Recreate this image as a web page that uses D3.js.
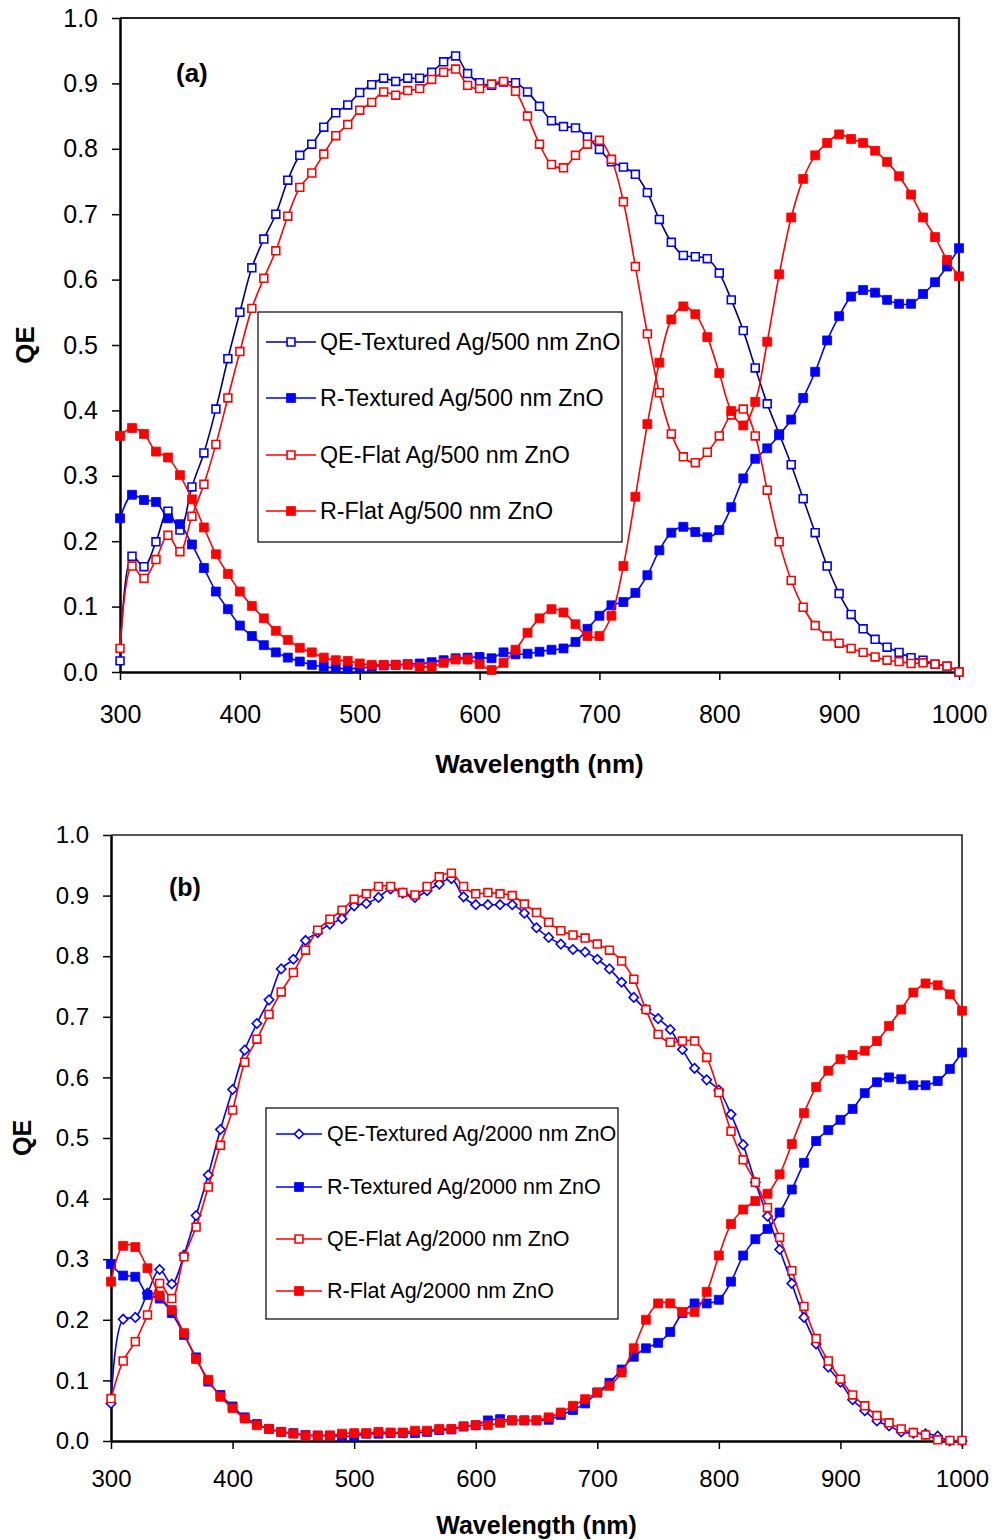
<!DOCTYPE html>
<html>
<head>
<meta charset="utf-8">
<script src="https://cdn.jsdelivr.net/npm/d3@7"></script>
<style>
  body { margin: 0; background: #fff; }
  svg { display: block; font-family: "Liberation Sans", Arial, sans-serif; }
</style>
</head>
<body>
<svg id="chart" width="995" height="1540"></svg>
<script>
// wavelengths (nm), one point every 10 nm
const wavelength = [300,310,320,330,340,350,360,370,380,390,400,410,420,430,440,450,460,470,480,490,
  500,510,520,530,540,550,560,570,580,590,600,610,620,630,640,650,660,670,680,690,
  700,710,720,730,740,750,760,770,780,790,800,810,820,830,840,850,860,870,880,890,
  900,910,920,930,940,950,960,970,980,990,1000];

const xTicks = [300,400,500,600,700,800,900,1000];
const yTicks = [0,0.1,0.2,0.3,0.4,0.5,0.6,0.7,0.8,0.9,1.0];

// panel (a): 500 nm ZnO
const qeTexA = [0.017,0.177,0.161,0.199,0.246,0.217,0.283,0.335,0.402,0.479,
  0.55,0.618,0.662,0.70,0.752,0.79,0.807,0.833,0.855,0.867,
  0.886,0.898,0.908,0.903,0.908,0.908,0.917,0.933,0.942,0.915,
  0.901,0.897,0.902,0.901,0.887,0.865,0.843,0.834,0.832,0.818,
  0.799,0.78,0.772,0.761,0.733,0.692,0.657,0.637,0.635,0.632,
  0.61,0.569,0.522,0.465,0.41,0.364,0.317,0.265,0.213,0.162,
  0.12,0.088,0.066,0.05,0.038,0.03,0.022,0.018,0.012,0.009,0.0];
const rTexA = [0.235,0.271,0.263,0.26,0.235,0.226,0.195,0.159,0.123,0.096,
  0.071,0.055,0.041,0.03,0.022,0.016,0.011,0.008,0.006,0.005,
  0.006,0.008,0.01,0.011,0.012,0.013,0.015,0.018,0.021,0.022,
  0.023,0.021,0.03,0.027,0.028,0.031,0.034,0.036,0.046,0.066,
  0.086,0.102,0.107,0.121,0.148,0.186,0.213,0.222,0.214,0.206,
  0.217,0.252,0.296,0.326,0.342,0.362,0.386,0.419,0.459,0.507,
  0.544,0.574,0.584,0.58,0.569,0.563,0.563,0.578,0.596,0.62,0.648];
const qeFlatA = [0.036,0.162,0.143,0.172,0.209,0.184,0.238,0.287,0.348,0.419,
  0.49,0.556,0.602,0.644,0.697,0.741,0.763,0.792,0.82,0.837,
  0.859,0.871,0.887,0.882,0.889,0.892,0.906,0.917,0.922,0.897,
  0.892,0.899,0.903,0.888,0.85,0.807,0.776,0.771,0.79,0.807,
  0.813,0.784,0.719,0.62,0.517,0.427,0.364,0.329,0.32,0.336,
  0.361,0.393,0.402,0.361,0.278,0.199,0.14,0.099,0.071,0.055,
  0.044,0.036,0.03,0.023,0.018,0.016,0.013,0.014,0.012,0.009,0.0];
const rFlatA = [0.361,0.373,0.364,0.337,0.328,0.301,0.264,0.221,0.18,0.15,
  0.123,0.101,0.082,0.063,0.049,0.037,0.03,0.022,0.018,0.017,
  0.013,0.011,0.011,0.011,0.011,0.008,0.008,0.014,0.019,0.019,
  0.012,0.003,0.014,0.034,0.06,0.082,0.096,0.091,0.073,0.055,
  0.055,0.086,0.162,0.268,0.379,0.473,0.539,0.559,0.547,0.512,
  0.457,0.399,0.377,0.413,0.505,0.608,0.695,0.754,0.79,0.809,
  0.822,0.815,0.809,0.797,0.78,0.758,0.73,0.695,0.665,0.63,0.605];

// panel (b): 2000 nm ZnO
const qeTexB = [0.062,0.201,0.204,0.244,0.283,0.259,0.307,0.372,0.439,0.514,
  0.58,0.645,0.689,0.728,0.779,0.795,0.826,0.839,0.853,0.862,
  0.883,0.887,0.897,0.911,0.904,0.897,0.908,0.919,0.928,0.898,
  0.885,0.885,0.885,0.885,0.871,0.847,0.831,0.82,0.811,0.807,
  0.795,0.779,0.757,0.732,0.712,0.697,0.679,0.646,0.615,0.596,
  0.579,0.539,0.489,0.427,0.371,0.316,0.26,0.204,0.16,0.122,
  0.097,0.068,0.05,0.033,0.025,0.015,0.013,0.012,0.008,0.0,0.0];
const rTexB = [0.292,0.273,0.271,0.241,0.235,0.211,0.175,0.138,0.098,0.076,
  0.057,0.039,0.028,0.02,0.015,0.013,0.01,0.009,0.009,0.008,
  0.008,0.012,0.012,0.013,0.013,0.013,0.015,0.018,0.019,0.024,
  0.026,0.034,0.036,0.034,0.034,0.034,0.035,0.043,0.051,0.062,
  0.08,0.096,0.118,0.139,0.153,0.162,0.18,0.211,0.227,0.227,
  0.233,0.263,0.306,0.333,0.35,0.377,0.415,0.459,0.495,0.513,
  0.53,0.548,0.574,0.592,0.6,0.597,0.587,0.587,0.594,0.614,0.641];
const qeFlatB = [0.07,0.132,0.164,0.208,0.26,0.235,0.304,0.353,0.419,0.488,
  0.546,0.625,0.663,0.704,0.741,0.773,0.81,0.843,0.861,0.876,
  0.894,0.903,0.915,0.915,0.905,0.901,0.915,0.931,0.937,0.915,
  0.903,0.905,0.903,0.9,0.886,0.872,0.856,0.842,0.835,0.83,
  0.82,0.81,0.792,0.762,0.712,0.671,0.658,0.66,0.66,0.633,
  0.575,0.511,0.464,0.427,0.385,0.336,0.281,0.222,0.169,0.132,
  0.102,0.076,0.058,0.042,0.03,0.02,0.014,0.01,0.002,0.001,0.001];
const rFlatB = [0.263,0.322,0.32,0.285,0.24,0.216,0.178,0.135,0.101,0.073,
  0.054,0.037,0.026,0.02,0.015,0.012,0.009,0.009,0.009,0.012,
  0.013,0.013,0.015,0.014,0.014,0.017,0.017,0.02,0.02,0.024,
  0.026,0.026,0.03,0.034,0.034,0.034,0.039,0.047,0.058,0.069,
  0.08,0.091,0.113,0.153,0.2,0.227,0.227,0.213,0.213,0.246,
  0.306,0.358,0.382,0.396,0.408,0.44,0.49,0.541,0.584,0.611,
  0.63,0.637,0.644,0.66,0.685,0.712,0.74,0.755,0.752,0.737,0.71];

const svg = d3.select('#chart');

const drawMarker = (g, s, x, y) => {
  const size = s.shape === 'diamond' ? 44 : (s.filled ? 80 : 62);
  g.append('path')
    .attr('d', d3.symbol().type(d3.symbolSquare).size(size)())
    .attr('transform', `translate(${x},${y})` + (s.shape === 'diamond' ? ' rotate(45)' : ''))
    .attr('fill', s.filled ? s.color : '#fff')
    .attr('stroke', s.color)
    .attr('stroke-width', s.filled ? 0.8 : 1.6);
};

const drawPanel = (p) => {
  const g = svg.append('g');

  const x = d3.scaleLinear().domain([300, 1000]).range([p.left, p.right]);
  const y = d3.scaleLinear().domain([0, 1]).range([p.bottom, p.top]);

  // axes
  g.append('g')
    .attr('transform', `translate(0,${p.bottom})`)
    .call(d3.axisBottom(x).tickValues(xTicks).tickFormat(d3.format('d')).tickSize(8).tickSizeOuter(0).tickPadding(p.xPad))
    .call(a => a.select('.domain').attr('stroke-width', 2.5))
    .call(a => a.selectAll('.tick line').attr('stroke-width', 1.5))
    .call(a => a.selectAll('text').attr('font-size', p.tickFont).attr('fill', '#000')
      .attr('font-family', '"Liberation Sans", Arial, sans-serif'));

  g.append('g')
    .attr('transform', `translate(${p.left},0)`)
    .call(d3.axisLeft(y).tickValues(yTicks).tickFormat(d3.format('.1f')).tickSize(8).tickSizeOuter(0).tickPadding(p.yPad))
    .call(a => a.select('.domain').attr('stroke-width', 2.5))
    .call(a => a.selectAll('.tick line').attr('stroke-width', 1.5))
    .call(a => a.selectAll('text').attr('font-size', p.tickFont).attr('fill', '#000')
      .attr('font-family', '"Liberation Sans", Arial, sans-serif'));

  // top and right frame
  g.append('path')
    .attr('d', `M${p.left},${p.top}H${p.right}V${p.bottom}`)
    .attr('fill', 'none')
    .attr('stroke', '#222')
    .attr('stroke-width', p.frameWidth);

  // axis titles
  g.append('text')
    .attr('x', (p.left + p.right) / 2)
    .attr('y', p.xTitleY)
    .attr('text-anchor', 'middle')
    .attr('font-size', p.titleFont)
    .attr('font-weight', 'bold')
    .text('Wavelength (nm)');

  g.append('text')
    .attr('transform', `translate(${p.yTitleX},${p.yTitleCy}) rotate(-90)`)
    .attr('text-anchor', 'middle')
    .attr('dominant-baseline', 'central')
    .attr('font-size', p.titleFont)
    .attr('font-weight', 'bold')
    .text('QE');

  g.append('text')
    .attr('x', p.labelX)
    .attr('y', p.labelY)
    .attr('font-size', p.titleFont)
    .attr('font-weight', 'bold')
    .text(p.label);

  // series
  const line = d3.line()
    .x((d, i) => x(wavelength[i]))
    .y(d => y(d))
    .curve(d3.curveCatmullRom.alpha(0.5));

  p.series.forEach(s => {
    g.append('path')
      .datum(s.values)
      .attr('d', line)
      .attr('fill', 'none')
      .attr('stroke', s.lineColor)
      .attr('stroke-width', 1.6);
    const mg = g.append('g');
    s.values.forEach((v, i) => drawMarker(mg, s, x(wavelength[i]), y(v)));
  });

  // legend
  const lg = g.append('g');
  lg.append('rect')
    .attr('x', p.legend.x).attr('y', p.legend.y)
    .attr('width', p.legend.w).attr('height', p.legend.h)
    .attr('fill', '#fff').attr('stroke', '#000').attr('stroke-width', 1.2);

  p.series.forEach((s, i) => {
    const ly = p.legend.rows[i];
    lg.append('line')
      .attr('x1', p.legend.x0).attr('x2', p.legend.x1)
      .attr('y1', ly).attr('y2', ly)
      .attr('stroke', s.lineColor).attr('stroke-width', 1.6);
    drawMarker(lg, s, (p.legend.x0 + p.legend.x1) / 2, ly);
    lg.append('text')
      .attr('x', p.legend.tx).attr('y', ly)
      .attr('dominant-baseline', 'central')
      .attr('font-size', p.legend.font)
      .text(s.name);
  });
};

drawPanel({
  left: 120, right: 959, top: 18, bottom: 672,
  xPad: 25, yPad: 14, tickFont: 25, titleFont: 26, frameWidth: 2.2,
  xTitleY: 773, yTitleX: 25, yTitleCy: 345,
  label: '(a)', labelX: 176, labelY: 82,
  series: [
    { name: 'QE-Textured Ag/500 nm ZnO', values: qeTexA, color: '#0000ff', lineColor: '#000080', filled: false, shape: 'square' },
    { name: 'R-Textured Ag/500 nm ZnO', values: rTexA, color: '#0000ff', lineColor: '#0000ff', filled: true, shape: 'square' },
    { name: 'QE-Flat Ag/500 nm ZnO', values: qeFlatA, color: '#ff0000', lineColor: '#ff0000', filled: false, shape: 'square' },
    { name: 'R-Flat Ag/500 nm ZnO', values: rFlatA, color: '#ff0000', lineColor: '#ff0000', filled: true, shape: 'square' }
  ],
  legend: { x: 258, y: 312, w: 364, h: 230, x0: 266, x1: 316, tx: 320, font: 23.3, rows: [342, 398, 455, 511] }
});

drawPanel({
  left: 111, right: 962, top: 835, bottom: 1441,
  xPad: 21, yPad: 14, tickFont: 24, titleFont: 25, frameWidth: 1.6,
  xTitleY: 1534, yTitleX: 22, yTitleCy: 1138,
  label: '(b)', labelX: 169, labelY: 896,
  series: [
    { name: 'QE-Textured Ag/2000 nm ZnO', values: qeTexB, color: '#0000ff', lineColor: '#0000ff', filled: false, shape: 'diamond' },
    { name: 'R-Textured Ag/2000 nm ZnO', values: rTexB, color: '#0000ff', lineColor: '#0000ff', filled: true, shape: 'square' },
    { name: 'QE-Flat Ag/2000 nm ZnO', values: qeFlatB, color: '#ff0000', lineColor: '#ff0000', filled: false, shape: 'square' },
    { name: 'R-Flat Ag/2000 nm ZnO', values: rFlatB, color: '#ff0000', lineColor: '#ff0000', filled: true, shape: 'square' }
  ],
  legend: { x: 266, y: 1108, w: 352, h: 211, x0: 276, x1: 322, tx: 327, font: 21.5, rows: [1134, 1187, 1239, 1291] }
});
</script>
</body>
</html>
